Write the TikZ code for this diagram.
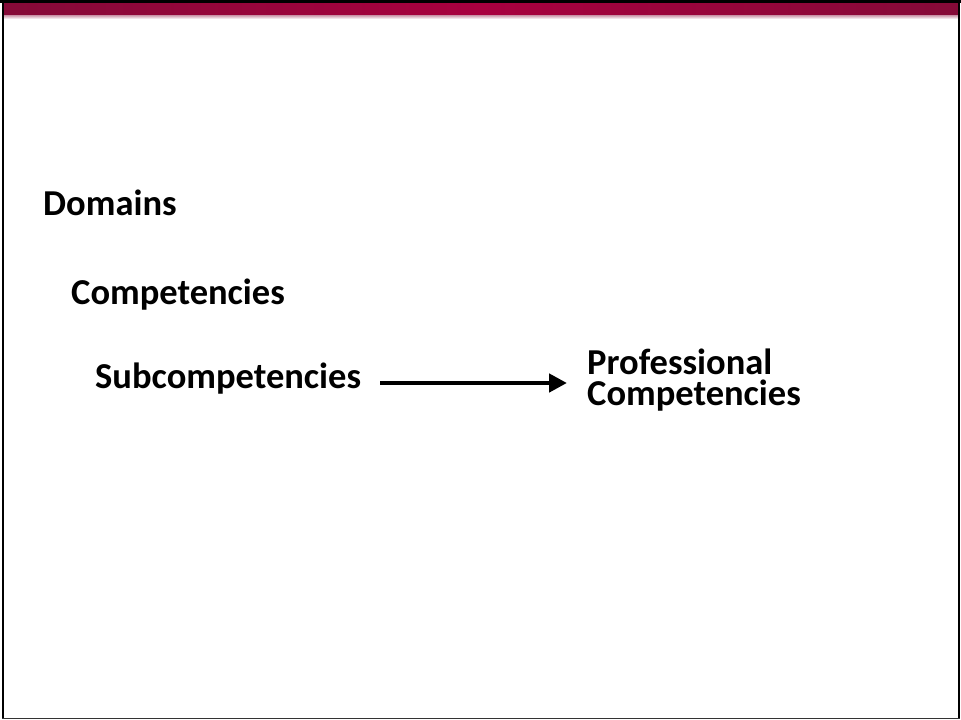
\documentclass[tikz,border=0pt]{standalone}
\usepackage{fontspec}
\setmainfont{Carlito}
\usetikzlibrary{arrows.meta}
\definecolor{barmid}{HTML}{A8003F}
\definecolor{baredge}{HTML}{850A38}
\begin{document}
\begin{tikzpicture}[x=1pt,y=-1pt,
  label/.style={anchor=base west,inner sep=0pt,font=\bfseries\fontsize{36.5}{30.5}\selectfont,align=left},
  link/.style={line width=4.5pt,-{Triangle[length=18pt,width=18pt]}}]
  \useasboundingbox (0,0) rectangle (961,720);
  % slide frame
  \fill[white] (0,0) rectangle (961,720);
  \fill[black] (0,0) rectangle (961,3);
  % title bar with soft fade underneath
  \shade[left color=baredge,right color=baredge,middle color=barmid] (3,3) rectangle (958,15);
  \shade[top color=baredge!45,bottom color=white] (3,15) rectangle (958,19);
  \draw[black,line width=2.5pt] (3.2,0) -- (3.2,718.5);
  \draw[black,line width=2pt] (958.5,0) -- (958.5,718.5);
  \draw[black!80,line width=1.5pt] (2,718.5) -- (959.5,718.5);
  % labels (a two-line node sits on the baseline of its last line)
  \node[label] (dom) at (43,215) {Domains};
  \node[label] (comp) at (71,304) {Competencies};
  \node[label] (sub) at (95,388) {Subcompetencies};
  \node[label] (prof) at (587,405) {Professional\\Competencies};
  \coordinate (start) at (380,383);
  \coordinate (tip) at (567,383);
  \draw[link] (start) -- (tip);
\end{tikzpicture}
\end{document}
